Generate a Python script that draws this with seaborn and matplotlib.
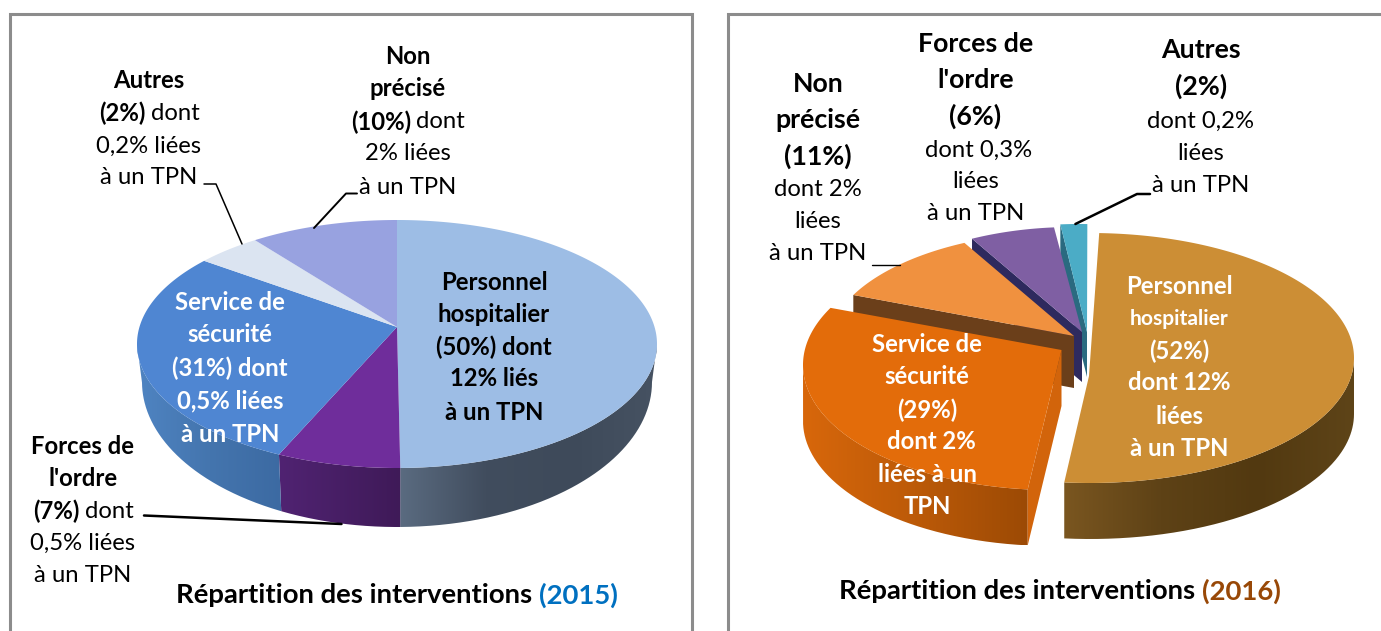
import numpy as np
import matplotlib
matplotlib.use("Agg")
import matplotlib.pyplot as plt
from matplotlib.patches import PathPatch
from matplotlib.path import Path
from matplotlib.colors import LinearSegmentedColormap
import seaborn as sns

sns.set_theme(style="white")
plt.rcParams['font.family'] = ['Lato', 'DejaVu Sans']

# ---- data (shares as drawn in the picture, %)
cats_2015 = ["Personnel hospitalier", "Forces de l'ordre", "Service de sécurité", "Autres", "Non précisé"]
vals_2015 = [49.8, 7.7, 29.2, 4.1, 9.2]
cats_2016 = ["Personnel hospitalier", "Service de sécurité", "Non précisé", "Forces de l'ordre", "Autres"]
vals_2016 = [51.0, 31.0, 10.5, 5.7, 1.8]
title_main = "Répartition des interventions "
year_2015 = "(2015)"
year_2016 = "(2016)"

W, H = 1381, 631
SPLIT = 707
fig = plt.figure(figsize=(W / 100, H / 100), dpi=100, facecolor="white")
ax1 = fig.add_axes([0, 0, SPLIT / W, 1])
ax2 = fig.add_axes([SPLIT / W, 0, 1 - SPLIT / W, 1])
ax1.set_xlim(0, SPLIT); ax2.set_xlim(SPLIT, W)
for a in (ax1, ax2):
    a.set_ylim(H, 0)
    a.axis("off")


def angles(values, start):
    v = np.asarray(values, float)
    e = start + 360 * np.cumsum(v) / v.sum()
    return np.r_[start, e[:-1]], e


def pt(g, t):
    r = np.radians(t)
    return g["cx"] + g["rx"] * np.sin(r), g["cy"] - g["ry"] * np.cos(r)


def top(ax, g, t0, t1, color, z):
    ts = np.linspace(t0, t1, 200)
    x, y = pt(g, ts)
    ax.fill(np.r_[g["ax"], x], np.r_[g["ay"], y], color=color, lw=0, zorder=z)


def side(ax, g, b, t0, t1, stops, z):
    a0, a1 = max(t0, 90), min(t1, 270)
    if a1 <= a0:
        return
    ts = np.linspace(a0, a1, 240)
    xt, yt = pt(g, ts)
    xb, yb = pt(b, ts)
    xs = np.r_[xt, xb[::-1]]
    ys = np.r_[yt, yb[::-1]]
    cm = LinearSegmentedColormap.from_list("s", stops)
    grad = np.linspace(0, 1, 256)[None, :]
    im = ax.imshow(grad, cmap=cm, aspect="auto", interpolation="bilinear", zorder=z,
                   extent=(xs.min(), xs.max(), ys.max(), ys.min()))
    clip = PathPatch(Path(np.c_[xs, ys]), transform=ax.transData, fc="none", ec="none")
    ax.add_patch(clip)
    im.set_clip_path(clip)


def face(ax, g, t, depth, color, z):
    x, y = pt(g, t)
    ax.fill([g["ax"], x, x, g["ax"]], [g["ay"], y, y + depth, g["ay"] + depth], color=color, lw=0, zorder=z)


# ---- 2015 pie
g15 = dict(cx=397, cy=344, rx=260, ry=124, ax=397, ay=327)
b15 = dict(cx=397, cy=382, rx=255, ry=145, ax=397, ay=382)
t0, t1 = angles(vals_2015, 0)
top_15 = ["#9DBDE5", "#6F2D9B", "#4F86D2", "#DBE4F1", "#98A2E0"]
side_15 = [["#5A6B80", "#414D5E", "#3E4A5A", "#465262"],
           ["#502372", "#3F1A58"],
           ["#4F84C2", "#4475AE", "#3C6AA2"],
           ["#C0C8D4", "#C0C8D4"], ["#7A82B4", "#7A82B4"]]
for i in range(5):
    side(ax1, g15, b15, t0[i], t1[i], side_15[i], 2)
for i in range(5):
    top(ax1, g15, t0[i], t1[i], top_15[i], 3)

# ---- 2016 pie (exploded)
D = 56
gs16 = [dict(cx=1090, cy=358, rx=264, ry=125, ax=1089, ay=376),
        dict(cx=1052, cy=365, rx=249, ry=125, ax=1061.5, ay=350),
        dict(cx=1065, cy=348, rx=238, ry=116, ax=1074, ay=336),
        dict(cx=1072.6, cy=352, rx=238, ry=125, ax=1082, ay=332),
        dict(cx=1079, cy=349, rx=239, ry=125, ax=1087, ay=332)]
t0, t1 = angles(vals_2016, 2)
top_16 = ["#CC8E35", "#E36C0A", "#F0913F", "#7F5FA3", "#4BACC6"]
# back slices first
face(ax2, gs16[4], t0[4], 45, "#2A6A80", 2)
top(ax2, gs16[4], t0[4], t1[4], top_16[4], 3)
face(ax2, gs16[3], t0[3], 50, "#2E2A5E", 4)
top(ax2, gs16[3], t0[3], t1[3], top_16[3], 5)
face(ax2, gs16[2], t0[2], 52, "#6B3F1A", 6)
top(ax2, gs16[2], t0[2], t1[2], top_16[2], 7)
# security service
b = dict(gs16[1]); b["cy"] += D
side(ax2, gs16[1], b, t0[1], t1[1], ["#D8670B", "#BC5A08", "#9C4A05"], 8)
face(ax2, gs16[1], t0[1], D, "#D2640B", 8)
top(ax2, gs16[1], t0[1], t1[1], top_16[1], 9)
# hospital staff
b = dict(gs16[0]); b["cy"] += D
side(ax2, gs16[0], b, t0[0], t1[0], ["#7A5620", "#5E4216", "#523910", "#5E4418"], 10)
top(ax2, gs16[0], t0[0], t1[0], top_16[0], 11)

# ---- frames
FR = "#8C8C8C"
ax1.plot([10, 10, 692, 692], [H, 14, 14, H], color=FR, lw=2.2, zorder=1, solid_joinstyle="miter")
ax2.plot([728, 728, W], [H, 14, 14], color=FR, lw=2.2, zorder=1, solid_joinstyle="miter")

# ---- leaders
ax1.plot([204, 216, 242], [184, 184, 244], color="black", lw=1.1, zorder=12)
ax1.plot([357, 346, 314], [193.5, 193.5, 228], color="black", lw=1.4, zorder=12)
ax1.plot([144, 341.5], [515.5, 524], color="black", lw=1.8, zorder=12)
ax2.plot([1150, 1137, 1075.4], [194, 194, 224], color="black", lw=1.8, zorder=12)
ax2.plot([872, 900], [265, 265], color="black", lw=1.0, zorder=12)

# ---- text
FS = 17.2
renderer = fig.canvas.get_renderer()


def line(ax, x, y, runs, size=FS, color="black"):
    """runs: list of (text, bold[, color]) centred as a group on x."""
    arts = []
    for r in runs:
        c = r[2] if len(r) > 2 else color
        arts.append(ax.text(0, y, r[0], fontsize=size, color=c, ha="left", va="center_baseline",
                            fontweight="bold" if r[1] else "normal", zorder=20))
    gap = size * 0.32
    widths = [a.get_window_extent(renderer).width for a in arts]
    total = sum(widths) + gap * (len(arts) - 1)
    cur = x - total / 2
    for a, w in zip(arts, widths):
        a.set_x(cur)
        cur += w + gap


B = lambda s: [(s, True)]
R = lambda s: [(s, False)]

block = [
    (408, 55, B("Non")), (408, 86.5, B("précisé")), (408, 120, [("(10%)", True), ("dont", False)]),
    (408, 152, R("2% liées")), (408, 185, R("à un TPN")),
    (149, 79, B("Autres")), (149, 111, [("(2%)", True), ("dont", False)]),
    (149, 144, R("0,2% liées")), (149, 176, R("à un TPN")),
    (494, 280, B("Personnel")), (494, 312, B("hospitalier")), (494, 345, B("(50%) dont")),
    (494, 377, B("12% liés")), (494, 410, B("à un TPN")),
    (83, 444, B("Forces de")), (83, 476, B("l'ordre")), (83, 509, [("(7%)", True), ("dont", False)]),
    (83, 541, R("0,5% liées")), (83, 574, R("à un TPN")),
]
for x, y, r in block:
    line(ax1, x, y, r)
for y, s in [(301, "Service de"), (333, "sécurité"), (366, "(31%) dont"), (399, "0,5% liées"), (432, "à un TPN")]:
    line(ax1, 230, y, B(s), color="white")
line(ax1, 397, 593, [(title_main.strip(), True), (year_2015, True, "#0070C0")], size=FS * 1.15)

BIG = FS * 1.12
for x, y, s in [(818, 82.5, "Non"), (818, 118, "précisé"), (818, 154, "(11%)"),
                (975.5, 42, "Forces de"), (975.5, 78, "l'ordre"), (975.5, 114, "(6%)"),
                (1200.6, 48, "Autres"), (1200.6, 84, "(2%)")]:
    line(ax2, x, y, B(s), size=BIG)
for x, y, s in [(818, 188, "dont 2%"), (818, 220, "liées"), (818, 252, "à un TPN"),
                (979, 148, "dont 0,3%"), (975.5, 180, "liées"), (975.5, 212, "à un TPN"),
                (1200.6, 119, "dont 0,2%"), (1200.6, 151, "liées"), (1200.6, 184, "à un TPN")]:
    line(ax2, x, y, R(s))
for y, s, fs in [(284, "Personnel", FS), (317, "hospitalier", FS * 0.88), (349, "(52%)", FS),
                 (381, "dont 12%", FS), (415, "liées", FS), (447, "à un TPN", FS)]:
    line(ax2, 1179.5, y, B(s), size=fs, color="white")
for x, y, s in [(927, 343, "Service de"), (927, 375, "sécurité"), (927, 408, "(29%)"),
                (931, 439.5, "dont 2%"), (927, 473, "liées à un"), (927, 505, "TPN")]:
    line(ax2, x, y, B(s), color="white")
line(ax2, 1060, 589, [(title_main.strip(), True), (year_2016, True, "#984807")], size=FS * 1.15)

fig.savefig("out.png", dpi=100, facecolor="white")
